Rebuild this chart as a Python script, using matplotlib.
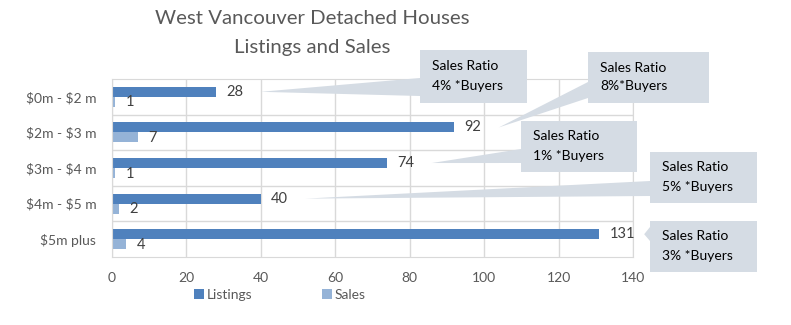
import matplotlib.pyplot as plt
from matplotlib.patches import Polygon
from matplotlib.ticker import MultipleLocator

plt.rcParams['font.family'] = ['Lato', 'DejaVu Sans']
plt.rcParams['text.parse_math'] = False

# data
categories = ['$0m - $2 m', '$2m - $3 m', '$3m - $4 m', '$4m - $5 m', '$5m plus']
listings = [28, 92, 74, 40, 131]
sales = [1, 7, 1, 2, 4]
ratio_text = ['4% *Buyers', '8%*Buyers', '1% *Buyers', '5% *Buyers', '3% *Buyers']

LIST_COL = '#4F81BD'
SALE_COL = '#95B3D7'
BOX_COL = '#D5DCE4'
GRID_COL = '#D9D9D9'
TXT_COL = '#595959'

W, H = 791, 325
fig = plt.figure(figsize=(W / 100, H / 100), dpi=100)
ax = fig.add_axes([111.5 / W, 1 - 257 / H, 521.5 / W, 178 / H])

pos = list(range(len(categories)))
bh = 0.28
ax.barh([p - bh / 2 for p in pos], listings, height=bh, color=LIST_COL, zorder=2, label='Listings')
ax.barh([p + bh / 2 for p in pos], sales, height=bh, color=SALE_COL, zorder=2, label='Sales')

for p, v in zip(pos, listings):
    ax.annotate(str(v), (v, p - bh / 2), xytext=(7.5, 0), textcoords='offset points',
                va='center', ha='left', fontsize=10.5, color='#404040')
for p, v in zip(pos, sales):
    ax.annotate(str(v), (v, p + bh / 2), xytext=(7.5, -0.5), textcoords='offset points',
                va='center', ha='left', fontsize=10.5, color='#404040')

ax.set_xlim(0, 140)
ax.set_ylim(len(categories) - 0.5, -0.5)
ax.xaxis.set_major_locator(MultipleLocator(20))
ax.set_yticks(pos)
ax.set_yticklabels(categories)
ax.set_yticks([p + 0.5 for p in pos[:-1]], minor=True)
ax.grid(axis='x', which='major', color=GRID_COL, lw=1, zorder=0)
ax.grid(axis='y', which='minor', color=GRID_COL, lw=1, zorder=0)
ax.tick_params(which='both', length=0)
ax.tick_params(axis='x', pad=10.5, labelsize=10, labelcolor=TXT_COL)
ax.tick_params(axis='y', pad=11, labelsize=10, labelcolor=TXT_COL)
for s in ax.spines.values():
    s.set_color(GRID_COL)
ax.set_axisbelow(True)

fig.text(312 / W, 1 - 19 / H, 'West Vancouver Detached Houses', ha='center', va='center',
         fontsize=14.7, color=TXT_COL)
fig.text(312 / W, 1 - 47 / H, 'Listings and Sales', ha='center', va='center',
         fontsize=14.7, color=TXT_COL)

fig.legend(loc='center', bbox_to_anchor=(280 / W, 1 - 295 / H), ncol=2, frameon=False,
           fontsize=10, handlelength=0.7, handleheight=0.7, handletextpad=0.2,
           columnspacing=5, labelcolor=TXT_COL)

# callout boxes: (left, top, right, bottom, wedge top, wedge bottom) in pixels from top-left
boxes = [(420, 50, 527, 103, 78, 96),
         (588, 52, 709, 103, 82, 98),
         (521, 121, 637, 172, 149, 163),
         (650, 152, 757, 203, 181, 196),
         (650, 221, 757, 272, 227, 241)]
tip_gap = 12

def px(x, y):
    return (x / W, 1 - y / H)

to_fig = ax.transData + fig.transFigure.inverted()
for i, (l, t, r, b, wt, wb) in enumerate(boxes):
    tip = to_fig.transform((listings[i] + tip_gap, pos[i] - bh / 2))
    pts = [px(l, t), px(r, t), px(r, b), px(l, b), px(l, wb), tuple(tip), px(l, wt)]
    fig.add_artist(Polygon(pts, closed=True, transform=fig.transFigure,
                           facecolor=BOX_COL, edgecolor='none', zorder=5))
    fig.text(*px(l + 12, (t + b) / 2 - 10), 'Sales Ratio', ha='left', va='center',
             fontsize=10, color='black', zorder=6)
    fig.text(*px(l + 12, (t + b) / 2 + 9), ratio_text[i], ha='left', va='center',
             fontsize=10, color='black', zorder=6)

fig.savefig('out.png', dpi=100)
